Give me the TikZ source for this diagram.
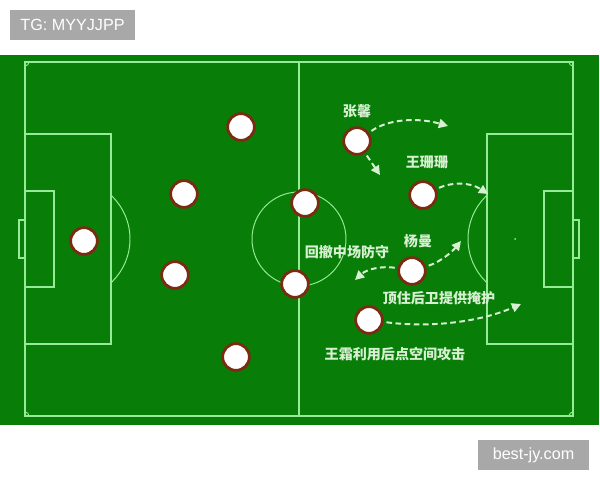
\documentclass[tikz,border=0pt]{standalone}
\usepackage{fontspec}
\setmainfont{Liberation Sans}
\newfontfamily\cjk{Noto Sans CJK SC}
\usetikzlibrary{arrows.meta}

\definecolor{pitchgreen}{RGB}{8,126,8}
\definecolor{chalk}{RGB}{150,235,150}
\definecolor{shirt}{RGB}{122,44,18}
\definecolor{runline}{RGB}{215,240,210}
\definecolor{stamp}{RGB}{168,168,168}

\tikzset{
    player/.style={circle, fill=white, draw=shirt, line width=2pt, minimum size=19pt, inner sep=0pt},
    namelabel/.style={text=runline, font=\cjk\bfseries\fontsize{10}{12}\selectfont, inner sep=0pt},
    runarrow/.style={runline, line width=1.4pt, dash pattern=on 4pt off 2.5pt, shorten <=2pt,
        -{Triangle[length=6.5pt, width=6.5pt]}},
    tagbox/.style={fill=stamp, text=white, font=\fontsize{11.5}{13}\selectfont, inner sep=0pt}
}

\begin{document}
\begin{tikzpicture}[x=0.025cm, y=-0.025cm]
        \useasboundingbox (0,0) rectangle (600,480);
        \fill[pitchgreen] (0,55) rectangle (599,425);

        % pitch lines
        \draw[chalk, line width=1.1pt] (25,62) rectangle (573,416);
        \draw[chalk, line width=1.1pt] (299,62) -- (299,416);
        \draw[chalk, line width=0.7pt] (299,239) circle (47);
        \draw[chalk, line width=1.1pt] (25,134) rectangle (111,344);
        \draw[chalk, line width=1.1pt] (25,191) rectangle (54,287);
        \draw[chalk, line width=1.1pt] (25,220) -- (19,220) -- (19,258) -- (25,258);
        \draw[chalk, line width=1.1pt] (487,134) rectangle (573,344);
        \draw[chalk, line width=1.1pt] (544,191) rectangle (573,287);
        \draw[chalk, line width=1.1pt] (573,220) -- (579,220) -- (579,258) -- (573,258);
        \fill[chalk] (515,239) circle (1);
        \begin{scope}
            \clip (111,150) rectangle (200,330);
            \draw[chalk, line width=0.7pt] (70,239) circle (60);
        \end{scope}
        \begin{scope}
            \clip (400,150) rectangle (487,330);
            \draw[chalk, line width=0.7pt] (528,239) circle (60);
        \end{scope}
        \foreach \cx/\cy/\a in {25/62/0, 573/62/90, 573/416/180, 25/416/270} {
            \draw[chalk, line width=0.7pt] (\cx,\cy) ++(\a:4) arc (\a:\a+90:4);
        }

        % players
        \node[player] (gk) at (84,241) {};
        \node[player] (lw) at (241,127) {};
        \node[player] (lm) at (184,194) {};
        \node[player] (lc) at (175,275) {};
        \node[player] (lb) at (236,357) {};
        \node[player] (mt) at (305,203) {};
        \node[player] (mb) at (295,284) {};
        \node[player] (zx) at (357,141) {};
        \node[player] (wss) at (423,195) {};
        \node[player] (ym) at (412,271) {};
        \node[player] (ws) at (369,320) {};

        % names
        \node[namelabel] (zxname) at (357,111) {张馨};
        \node[namelabel] (wssname) at (427,162) {王珊珊};
        \node[namelabel] (ymname) at (418,241) {杨曼};
        \node[namelabel] (backname) at (347,252) {回撤中场防守};
        \node[namelabel] (covername) at (439,298) {顶住后卫提供掩护};
        \node[namelabel] (wsname) at (395,354) {王霜利用后点空间攻击};

        % runs
        \coordinate (zxend) at (448,126);
        \coordinate (zxdown) at (380,175);
        \coordinate (wssend) at (488,194);
        \coordinate (ymup) at (461,241);
        \coordinate (ymback) at (355,280);
        \coordinate (wsend) at (521,304);

        \draw[runarrow] (zx) .. controls (390,118) and (420,118) .. (zxend);
        \draw[runarrow] (zx) -- (zxdown);
        \draw[runarrow] (wss) .. controls (452,182) and (470,182) .. (wssend);
        \draw[runarrow] (ym) .. controls (440,262) and (452,252) .. (ymup);
        \draw[runarrow] (ym) .. controls (385,266) and (368,268) .. (ymback);
        \draw[runarrow] (ws) .. controls (430,328) and (480,322) .. (wsend);

        % stamps
        \node[tagbox, minimum width=125*0.7113pt, minimum height=30*0.7113pt] (tg) at (72.5,25) {TG: MYYJJPP};
        \node[tagbox, minimum width=111*0.7113pt, minimum height=30*0.7113pt] (site) at (533.5,455) {best-jy.com};
\end{tikzpicture}
\end{document}
